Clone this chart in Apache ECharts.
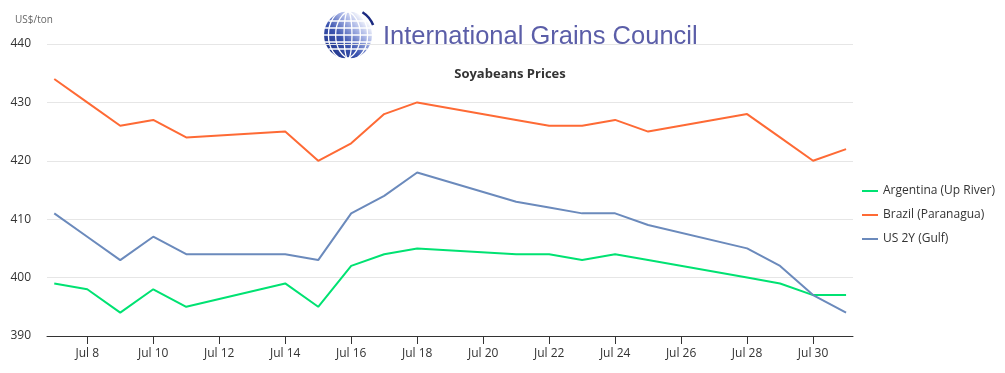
<!DOCTYPE html>
<html>
<head>
<meta charset="utf-8">
<script src="https://cdn.jsdelivr.net/npm/echarts@6/dist/echarts.min.js"></script>
<style>html,body{margin:0;padding:0;background:#fff}#c{width:1005px;height:373px}</style>
</head>
<body>
<div id="c"></div>
<script>
// Days of July 2014 with quotes
var days = [7, 8, 9, 10, 11, 14, 15, 16, 17, 18, 21, 22, 23, 24, 25, 28, 29, 30, 31];
var argentina = [399, 398, 394, 398, 395, 399, 395, 402, 404, 405, 404, 404, 403, 404, 403, 400, 399, 397, 397];
var brazil = [434, 430, 426, 427, 424, 425, 420, 423, 428, 430, 427, 426, 426, 427, 425, 428, 424, 420, 422];
var us = [411, 407, 403, 407, 404, 404, 403, 411, 414, 418, 413, 412, 411, 411, 409, 405, 402, 397, 394];
var tickDays = [8, 10, 12, 14, 16, 18, 20, 22, 24, 26, 28, 30];
var seriesNames = ['Argentina (Up River)', 'Brazil (Paranagua)', 'US 2Y (Gulf)'];
var colors = ['#00e272', '#fe6a35', '#6b8abc'];
var titleText = 'Soyabeans Prices';
var unitText = 'US$/ton';
var logoText = 'International Grains Council';

function pairs(vals) { return days.map(function (d, i) { return [d, vals[i]]; }); }

var font = '"Open Sans", "DejaVu Sans", sans-serif';

// Globe logo decoration
var gcx = 348, gcy = 35, gr = 24;
var logoChildren = [{
  type: 'circle',
  shape: { cx: gcx, cy: gcy, r: gr },
  style: {
    fill: new echarts.graphic.LinearGradient(0, 1, 1, 0, [
      { offset: 0, color: '#14267a' },
      { offset: 0.4, color: '#3c55b0' },
      { offset: 0.65, color: '#aab6e6' },
      { offset: 0.85, color: '#ffffff' },
      { offset: 1, color: '#ffffff' }
    ])
  }
}];
[-14, -7, 0, 7, 14].forEach(function (dy) {
  var hw = Math.sqrt(gr * gr - dy * dy);
  logoChildren.push({
    type: 'line',
    shape: { x1: gcx - hw, y1: gcy + dy, x2: gcx + hw, y2: gcy + dy },
    style: { stroke: '#ffffff', lineWidth: 1.5 }
  });
});
[-12, 0, 12].forEach(function (dx) {
  logoChildren.push({
    type: 'ellipse',
    shape: { cx: gcx + dx * 0.3, cy: gcy, rx: Math.abs(dx) + 4, ry: gr },
    style: { fill: 'none', stroke: '#ffffff', lineWidth: 1.3 }
  });
});
logoChildren.push({
  type: 'arc',
  shape: { cx: gcx, cy: gcy, r: gr + 3, startAngle: -Math.PI * 0.32, endAngle: -Math.PI * 0.12 },
  style: { stroke: '#1b2a80', lineWidth: 2.5, fill: 'none' }
});

var chart = echarts.init(document.getElementById('c'), null, { renderer: 'canvas' });
chart.setOption({
  animation: false,
  color: colors,
  grid: { left: 47, right: 152, top: 44, bottom: 37 },
  legend: {
    orient: 'vertical',
    left: 857,
    top: 180,
    itemWidth: 16,
    itemHeight: 2,
    itemGap: 12,
    icon: 'rect',
    textStyle: { fontFamily: font, fontSize: 12, color: '#333' },
    data: seriesNames
  },
  graphic: [
    { type: 'group', children: logoChildren },
    {
      type: 'text', x: 383, y: 37,
      style: { text: logoText, fontFamily: '"Liberation Sans", Arial, sans-serif', fontSize: 25.5, fill: '#5b5ea8', verticalAlign: 'middle', align: 'left' }
    },
    {
      type: 'text', x: 510, y: 74,
      style: { text: titleText, fontFamily: font, fontWeight: 'bold', fontSize: 13, fill: '#333', align: 'center', verticalAlign: 'middle' }
    },
    {
      type: 'text', x: 15, y: 20,
      style: { text: unitText, fontFamily: font, fontSize: 10, fill: '#666', align: 'left', verticalAlign: 'middle' }
    }
  ],
  xAxis: {
    type: 'value',
    min: 6.78,
    max: 31.21,
    splitLine: { show: false },
    axisLine: { show: true, lineStyle: { color: '#333', width: 1 } },
    axisTick: { show: true, length: 8, customValues: tickDays, lineStyle: { color: '#333' } },
    axisLabel: {
      customValues: tickDays,
      formatter: function (v) { return 'Jul ' + v; },
      fontFamily: font, fontSize: 12, color: '#333', margin: 12
    }
  },
  yAxis: {
    type: 'value',
    min: 390,
    max: 440,
    interval: 10,
    axisLine: { show: false },
    axisTick: { show: false },
    splitLine: { lineStyle: { color: '#e6e6e6' } },
    axisLabel: { fontFamily: font, fontSize: 12, color: '#333', margin: 16 }
  },
  series: [
    { name: seriesNames[0], type: 'line', data: pairs(argentina), showSymbol: false, lineStyle: { width: 2 } },
    { name: seriesNames[1], type: 'line', data: pairs(brazil), showSymbol: false, lineStyle: { width: 2 } },
    { name: seriesNames[2], type: 'line', data: pairs(us), showSymbol: false, lineStyle: { width: 2 } }
  ]
});
</script>
</body>
</html>
